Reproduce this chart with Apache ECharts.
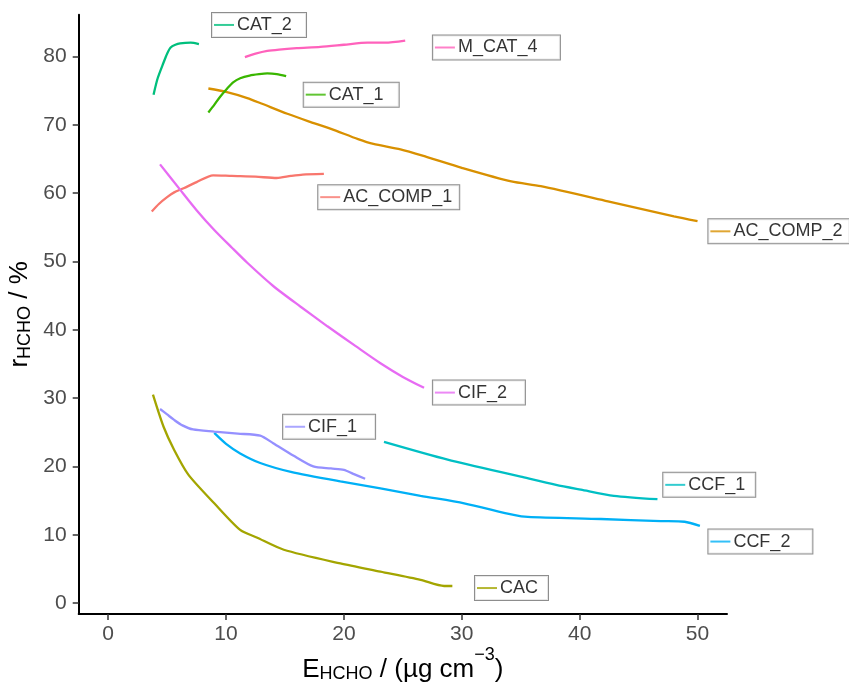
<!DOCTYPE html>
<html>
<head>
<meta charset="utf-8">
<script src="https://cdn.jsdelivr.net/npm/echarts@6/dist/echarts.min.js"></script>
<style>
  html, body { margin: 0; padding: 0; background: #fff; }
  #main { width: 849px; height: 682px; }
</style>
</head>
<body>
<div id="main"></div>
<script>
// tick labels
var xTicks = [0, 10, 20, 30, 40, 50];
var yTicks = [0, 10, 20, 30, 40, 50, 60, 70, 80];

// series (name order = ggplot colour order)
var seriesNames = ['AC_COMP_1', 'AC_COMP_2', 'CAC', 'CAT_1', 'CAT_2', 'CCF_1', 'CCF_2', 'CIF_1', 'CIF_2', 'M_CAT_4'];

var acComp1X = [3.7, 4.3, 5.0, 5.6, 6.4, 7.5, 8.9, 10.5, 12.5, 14.3, 15.5, 16.5, 18.3];
var acComp1Y = [57.3, 58.4, 59.4, 60.1, 60.7, 61.6, 62.6, 62.5, 62.4, 62.2, 62.5, 62.7, 62.8];

var acComp2X = [8.5, 10, 11.8, 13, 15.2, 17, 18.9, 21.2, 22.5, 24.8, 27, 30, 34.2, 36.7, 42.4, 48, 50];
var acComp2Y = [75.3, 74.8, 73.9, 73.1, 71.6, 70.5, 69.4, 67.9, 67.2, 66.4, 65.3, 63.7, 61.7, 61.0, 58.8, 56.6, 55.9];

var cacX = [3.8, 4.7, 5.6, 6.8, 9.0, 11.2, 12.6, 14.9, 19.7, 23.1, 26.5, 28.5, 29.2];
var cacY = [30.5, 25.8, 22.4, 18.8, 14.6, 10.7, 9.6, 7.8, 5.8, 4.6, 3.4, 2.5, 2.5];

var cat1X = [8.5, 9.0, 9.5, 10.1, 10.6, 11.2, 12.0, 12.8, 13.5, 14.3, 15.1];
var cat1Y = [71.8, 72.9, 74.1, 75.3, 76.2, 76.8, 77.2, 77.4, 77.5, 77.4, 77.1];

var cat2X = [3.85, 4.2, 4.7, 5.0, 5.3, 5.7, 6.1, 7.0, 7.7];
var cat2Y = [74.4, 76.8, 79.1, 80.4, 81.3, 81.7, 81.9, 82.0, 81.8];

var ccf1X = [23.4, 28.8, 35.0, 38.0, 40.1, 42.9, 46.6];
var ccf1Y = [23.6, 21.0, 18.5, 17.3, 16.6, 15.7, 15.2];

var ccf2X = [9.0, 10.0, 11.2, 12.9, 15.5, 19.7, 23.1, 26.5, 30.2, 34.4, 35.6, 41.8, 46.9, 48.9, 50.2];
var ccf2Y = [24.9, 23.3, 21.9, 20.5, 19.2, 17.8, 16.8, 15.7, 14.6, 12.9, 12.6, 12.3, 12.0, 11.9, 11.3];

var cif1X = [4.4, 5.0, 5.6, 6.3, 7.2, 9.0, 11.0, 12.9, 14.0, 15.7, 17.4, 18.9, 20.0, 20.8, 21.8];
var cif1Y = [28.4, 27.6, 26.8, 26.0, 25.4, 25.1, 24.8, 24.5, 23.4, 21.6, 20.0, 19.7, 19.5, 18.9, 18.2];

var cif2X = [4.4, 6.1, 7.5, 9.0, 10.5, 11.8, 14.0, 16.3, 18.6, 21.0, 23.1, 25.0, 26.8];
var cif2Y = [64.2, 60.5, 57.5, 54.6, 52.0, 49.8, 46.4, 43.4, 40.5, 37.6, 35.1, 33.1, 31.5];

var mcat4X = [11.6, 12.5, 13.5, 14.5, 16, 18, 20, 22, 23.5, 25.2];
var mcat4Y = [79.9, 80.4, 80.8, 81.0, 81.2, 81.4, 81.7, 82.0, 82.0, 82.3];

var allX = [acComp1X, acComp2X, cacX, cat1X, cat2X, ccf1X, ccf2X, cif1X, cif2X, mcat4X];
var allY = [acComp1Y, acComp2Y, cacY, cat1Y, cat2Y, ccf1Y, ccf2Y, cif1Y, cif2Y, mcat4Y];

var colors = ['#F8766D', '#D89000', '#A3A500', '#39B600', '#00BF7D', '#00BFC4', '#00B0F6', '#9590FF', '#E76BF3', '#FF62BC'];

// label boxes: left-middle anchor in data units, box width in px
var labelBoxes = [
  { x: 17.82, y: 59.4, w: 141 },
  { x: 50.92, y: 54.4, w: 141 },
  { x: 31.12, y: 2.2, w: 73 },
  { x: 16.59, y: 74.4, w: 95 },
  { x: 8.81, y: 84.6, w: 94 },
  { x: 47.09, y: 17.3, w: 92 },
  { x: 50.92, y: 9.0, w: 104 },
  { x: 14.84, y: 25.8, w: 92 },
  { x: 27.55, y: 30.8, w: 92 },
  { x: 27.55, y: 81.3, w: 127 }
];

var FONT = '"Liberation Sans", Arial, Helvetica, sans-serif';

(function(){
    var myChart = echarts.init(document.getElementById('main'), null, { renderer: 'canvas' });

    var series = [];
    seriesNames.forEach(function(name, i){
        var pts = allX[i].map(function(x, j){ return [x, allY[i][j]]; });
        series.push({
            name: name,
            type: 'line',
            data: pts,
            showSymbol: false,
            smooth: 0.25,
            clip: false,
            lineStyle: { color: colors[i], width: 2.3 },
            z: 2
        });
    });

    // labels
    seriesNames.forEach(function(name, i){
        var b = labelBoxes[i];
        series.push({
            name: name + '_label',
            type: 'scatter',
            data: [[b.x, b.y]],
            symbolSize: 0,
            silent: true,
            clip: false,
            z: 5,
            label: {
                show: true,
                position: 'right',
                distance: 0,
                formatter: '{m|}{t|' + name + '}',
                backgroundColor: '#fff',
                borderColor: '#707070',
                borderWidth: 1,
                padding: [2, 0, 2, 2],
                width: b.w - 2,
                align: 'left',
                rich: {
                    m: { width: 20, height: 2, backgroundColor: colors[i] },
                    t: { fontSize: 18, fontFamily: FONT, color: '#000', lineHeight: 20, padding: [0, 0, 0, 3] }
                }
            }
        });
    });

    var option = {
        animation: false,
        backgroundColor: '#fff',
        grid: {
            left: 78.7,
            right: 122,
            top: 14.7,
            bottom: 68,
            containLabel: false,
            outerBoundsMode: 'none'
        },
        xAxis: {
            type: 'value',
            min: -2.5,
            max: 52.5,
            axisLine: { show: true, onZero: false, lineStyle: { color: '#000', width: 2 } },
            axisTick: { show: true, customValues: xTicks, length: 6, lineStyle: { color: '#333', width: 1.5 } },
            axisLabel: { customValues: xTicks, color: '#4D4D4D', fontSize: 21, fontFamily: FONT, margin: 10 },
            splitLine: { show: false },
            name: 'E{sub|HCHO} / (µg cm{sup|−3})',
            nameLocation: 'middle',
            nameGap: 32,
            nameMoveOverlap: false,
            nameTextStyle: {
                fontSize: 26,
                fontFamily: FONT,
                color: '#000',
                rich: {
                    sub: { fontSize: 18, fontFamily: FONT, color: '#000', padding: [9, 0, 0, 0] },
                    sup: { fontSize: 18, fontFamily: FONT, color: '#000', padding: [0, 0, 30, 0] }
                }
            }
        },
        yAxis: {
            type: 'value',
            min: -1.6,
            max: 86.1,
            axisLine: { show: true, onZero: false, lineStyle: { color: '#000', width: 2 } },
            axisTick: { show: true, customValues: yTicks, length: 6, lineStyle: { color: '#333', width: 1.5 } },
            axisLabel: { customValues: yTicks, color: '#4D4D4D', fontSize: 21, fontFamily: FONT, margin: 12 },
            splitLine: { show: false },
            name: 'r{sub|HCHO} / %',
            nameLocation: 'middle',
            nameGap: 45,
            nameMoveOverlap: false,
            nameRotate: 90,
            nameTextStyle: {
                fontSize: 26,
                fontFamily: FONT,
                color: '#000',
                rich: {
                    sub: { fontSize: 18, fontFamily: FONT, color: '#000', padding: [9, 0, 0, 0] }
                }
            }
        },
        series: series
    };
    myChart.setOption(option);
    window.addEventListener("resize", function(){
        myChart.resize();
    });
})();
</script>
</body>
</html>
